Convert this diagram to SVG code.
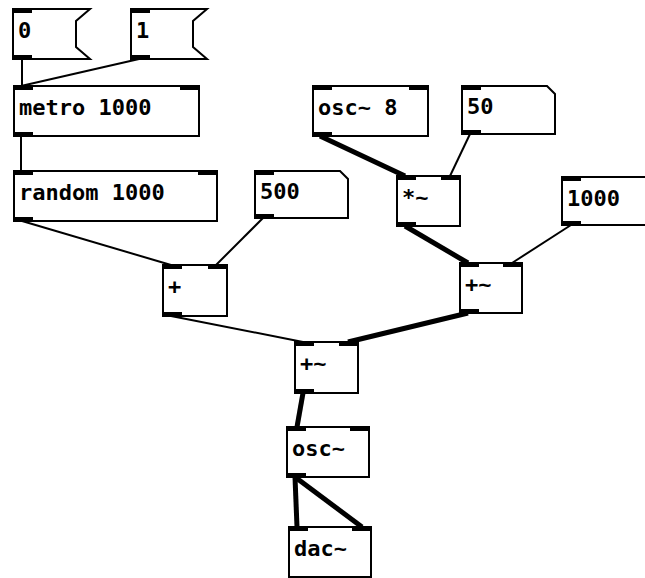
<svg xmlns="http://www.w3.org/2000/svg" width="645" height="578" viewBox="0 0 645 578">
<style>
.b{fill:#fff;stroke:#000;stroke-width:2}
.io{fill:#000}
.c{stroke:#000;stroke-width:2;fill:none}
.s{stroke-width:5}
text{font-family:"DejaVu Sans Mono",monospace;font-weight:bold;font-size:22px;fill:#000}
</style>
<rect width="645" height="578" fill="#fff"/>
<g id="connectors">
<line class="c" x1="22" y1="59" x2="22" y2="86"/>
<line class="c" x1="139" y1="59" x2="21" y2="86"/>
<line class="c" x1="21" y1="136" x2="21" y2="171"/>
<line class="c" x1="22" y1="221" x2="171" y2="265"/>
<line class="c" x1="263" y1="218" x2="216" y2="265"/>
<line class="c s" x1="320" y1="136" x2="405" y2="176"/>
<line class="c" x1="470" y1="134" x2="450" y2="176"/>
<line class="c s" x1="405" y1="226" x2="468" y2="263"/>
<line class="c" x1="571" y1="225" x2="512" y2="263"/>
<line class="c" x1="171" y1="316" x2="303" y2="342"/>
<line class="c s" x1="468" y1="313" x2="348" y2="342"/>
<line class="c s" x1="303" y1="393" x2="297" y2="427"/>
<line class="c s" x1="295" y1="477" x2="297" y2="527"/>
<line class="c s" x1="295" y1="477" x2="362" y2="527"/>
</g>
<g id="msg0">
<polygon class="b" points="13,9 90,9 76,21 76,47 90,59 13,59"/>
<rect class="io" x="12" y="8" width="20" height="5"/>
<rect class="io" x="12" y="55" width="20" height="5"/>
<text x="18" y="38">0</text>
</g>
<g id="msg1">
<polygon class="b" points="131,9 207,9 193,21 193,47 207,59 131,59"/>
<rect class="io" x="130" y="8" width="20" height="5"/>
<rect class="io" x="130" y="55" width="20" height="5"/>
<text x="136" y="38">1</text>
</g>
<g id="metro">
<rect class="b" x="14" y="86" width="185" height="50"/>
<rect class="io" x="13" y="85" width="20" height="5"/>
<rect class="io" x="180" y="85" width="20" height="5"/>
<rect class="io" x="13" y="132" width="20" height="5"/>
<text x="19" y="115">metro 1000</text>
</g>
<g id="random">
<rect class="b" x="14" y="171" width="203" height="50"/>
<rect class="io" x="13" y="170" width="20" height="5"/>
<rect class="io" x="198" y="170" width="20" height="5"/>
<rect class="io" x="13" y="217" width="20" height="5"/>
<text x="19" y="200">random 1000</text>
</g>
<g id="osc8">
<rect class="b" x="313" y="86" width="115" height="50"/>
<rect class="io" x="312" y="85" width="20" height="5"/>
<rect class="io" x="409" y="85" width="20" height="5"/>
<rect class="io" x="312" y="132" width="20" height="5"/>
<text x="318" y="115">osc~ 8</text>
</g>
<g id="atom50">
<polygon class="b" points="462,86 547,86 555,94 555,134 462,134"/>
<rect class="io" x="461" y="85" width="20" height="5"/>
<rect class="io" x="461" y="130" width="20" height="5"/>
<text x="467" y="114">50</text>
</g>
<g id="atom500">
<polygon class="b" points="255,171 340,171 348,179 348,218 255,218"/>
<rect class="io" x="254" y="170" width="20" height="5"/>
<rect class="io" x="254" y="214" width="20" height="5"/>
<text x="260" y="199">500</text>
</g>
<g id="mul">
<rect class="b" x="397" y="176" width="63" height="50"/>
<rect class="io" x="396" y="175" width="20" height="5"/>
<rect class="io" x="441" y="175" width="20" height="5"/>
<rect class="io" x="396" y="222" width="20" height="5"/>
<text x="402" y="205">*~</text>
</g>
<g id="atom1000">
<polygon class="b" points="562,177 650,177 650,225 562,225"/>
<rect class="io" x="561" y="176" width="20" height="5"/>
<rect class="io" x="561" y="221" width="20" height="5"/>
<text x="567" y="206">1000</text>
</g>
<g id="plus">
<rect class="b" x="163" y="265" width="64" height="51"/>
<rect class="io" x="162" y="264" width="20" height="5"/>
<rect class="io" x="208" y="264" width="20" height="5"/>
<rect class="io" x="162" y="312" width="20" height="5"/>
<text x="168" y="294">+</text>
</g>
<g id="addR">
<rect class="b" x="460" y="263" width="62" height="50"/>
<rect class="io" x="459" y="262" width="20" height="5"/>
<rect class="io" x="503" y="262" width="20" height="5"/>
<rect class="io" x="459" y="309" width="20" height="5"/>
<text x="465" y="292">+~</text>
</g>
<g id="addB">
<rect class="b" x="295" y="342" width="63" height="51"/>
<rect class="io" x="294" y="341" width="20" height="5"/>
<rect class="io" x="339" y="341" width="20" height="5"/>
<rect class="io" x="294" y="389" width="20" height="5"/>
<text x="300" y="371">+~</text>
</g>
<g id="osc">
<rect class="b" x="287" y="427" width="82" height="50"/>
<rect class="io" x="286" y="426" width="20" height="5"/>
<rect class="io" x="350" y="426" width="20" height="5"/>
<rect class="io" x="286" y="473" width="20" height="5"/>
<text x="292" y="456">osc~</text>
</g>
<g id="dac">
<rect class="b" x="289" y="527" width="82" height="50"/>
<rect class="io" x="288" y="526" width="20" height="5"/>
<rect class="io" x="352" y="526" width="20" height="5"/>
<text x="294" y="556">dac~</text>
</g>
</svg>
